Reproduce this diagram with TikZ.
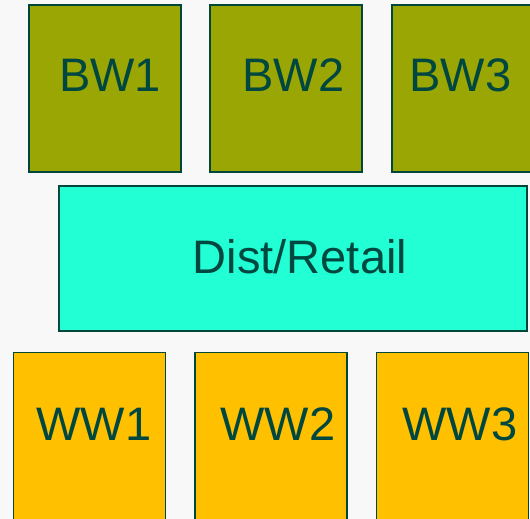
\documentclass[tikz,border=0pt]{standalone}
\usepackage{fontspec}
\setmainfont{Liberation Sans}
\usepackage{tikz}
\usetikzlibrary{positioning}

\definecolor{bgrey}{HTML}{F8F8F8}
\definecolor{olive}{HTML}{9AA604}
\definecolor{aqua}{HTML}{22FFD4}
\definecolor{amber}{HTML}{FFC000}
\definecolor{edge}{HTML}{00473A}
\definecolor{ink}{HTML}{00473F}

\begin{document}
\begin{tikzpicture}[x=1pt, y=1pt,
    box/.style={draw=edge, line width=1.5pt, minimum width=152pt, minimum height=167pt, inner sep=0pt, outer sep=0pt},
    bw/.style={box, fill=olive},
    ww/.style={box, fill=amber},
    lbl/.style={text=ink, anchor=base, inner sep=0pt, font=\fontsize{47}{52}\selectfont}
    ]

\fill[bgrey] (0,0) rectangle (530,-519);
\useasboundingbox (0,0) rectangle (530,-519);
\clip (0,0) rectangle (530,-519);

% breweries
\node[bw] (bw1) at (105,-88.5) {};
\node[bw] (bw2) at (286,-88.5) {};
\node[bw] (bw3) at (468,-88.5) {};

% distribution
\node[box, fill=aqua, minimum width=468pt, minimum height=145pt] (dist) at (293,-258.5) {};

% wholesalers
\node[ww] (ww1) at (89.5,-436) {};
\node[ww] (ww2) at (271,-436) {};
\node[ww] (ww3) at (452.5,-436) {};

\node[lbl] (bw1t) at (110,-92) {BW1};
\node[lbl] (bw2t) at (293.5,-92) {BW2};
\node[lbl] (bw3t) at (460.5,-92) {BW3};
\node[lbl] (distt) at (300,-273) {Dist/Retail};
\node[lbl] (ww1t) at (94,-440) {WW1};
\node[lbl] (ww2t) at (278,-440) {WW2};
\node[lbl] (ww3t) at (460,-440) {WW3};

\end{tikzpicture}
\end{document}
